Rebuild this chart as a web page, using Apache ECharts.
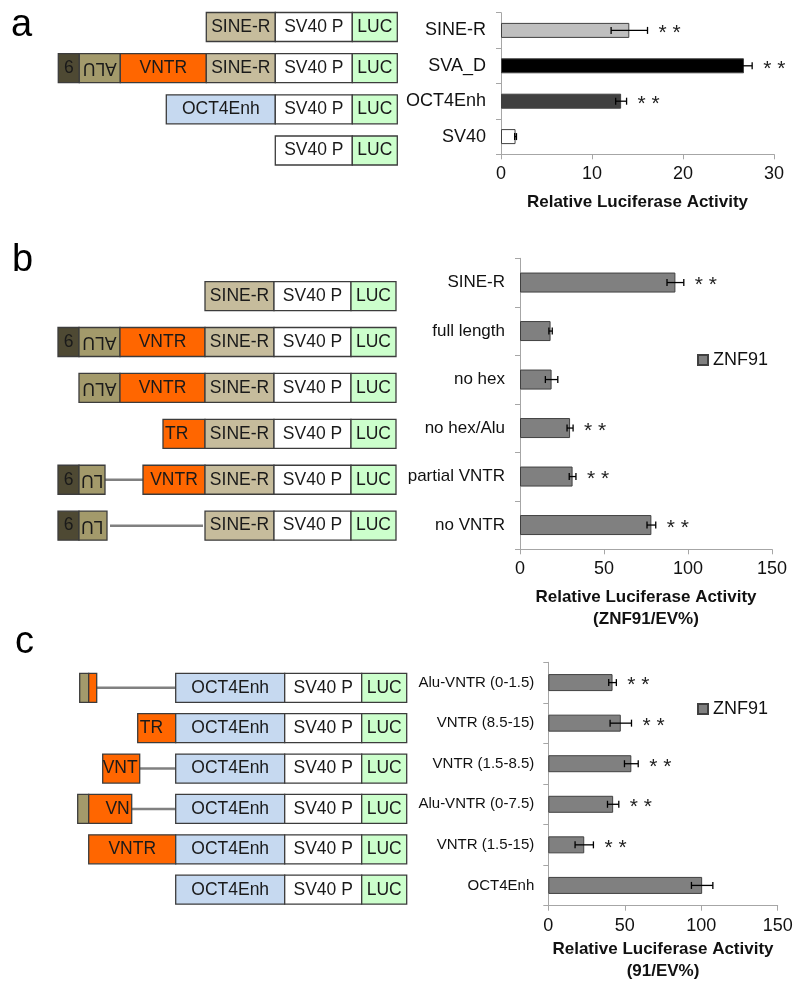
<!DOCTYPE html>
<html>
<head>
<meta charset="utf-8">
<script src="https://cdn.jsdelivr.net/npm/echarts@6/dist/echarts.min.js"></script>
<style>
  html, body { margin: 0; padding: 0; background: #fff; }
  #chart { width: 800px; height: 984px; }
</style>
</head>
<body>
<div id="chart"></div>
<script>
const FONT = "'Liberation Sans', Arial, sans-serif";

// ---------- panel a ----------
const aCats = ["SINE-R", "SVA_D", "OCT4Enh", "SV40"];
const aVals = [14.1, 26.7, 13.2, 1.6];
const aErr = [2.0, 0.9, 0.6, 0.1];
const aSig = ["* *", "* *", "* *", ""];
const aColors = ["#bfbfbf", "#000000", "#404040", "#ffffff"];

// ---------- panel b ----------
const bCats = ["SINE-R", "full length", "no hex", "no hex/Alu", "partial VNTR", "no VNTR"];
const bVals = [92.5, 18.2, 18.8, 29.8, 31.3, 78.2];
const bErr = [5.0, 1.0, 3.7, 1.8, 2.0, 2.6];
const bSig = ["* *", "", "", "* *", "* *", "* *"];

// ---------- panel c ----------
const cCats = ["Alu-VNTR (0-1.5)", "VNTR (8.5-15)", "VNTR (1.5-8.5)", "Alu-VNTR (0-7.5)", "VNTR (1.5-15)", "OCT4Enh"];
const cVals = [42.0, 47.4, 54.3, 42.4, 23.5, 100.6];
const cErr = [2.5, 7.0, 4.5, 3.7, 6.0, 7.0];
const cSig = ["* *", "* *", "* *", "* *", "* *", ""];

const seriesName = "ZNF91";

// construct maps: [row, start, end, part, label], start/end measured from the LUC end (0)
const aParts = [
  [0, -191, -122, "sine", "SINE-R"], [0, -122, -45, "sv40", "SV40 P"], [0, -45, 0, "luc", "LUC"],
  [1, -339, -318, "hex", "6"], [1, -318, -277, "alu", "ALU"], [1, -277, -191, "vntr", "VNTR"],
  [1, -191, -122, "sine", "SINE-R"], [1, -122, -45, "sv40", "SV40 P"], [1, -45, 0, "luc", "LUC"],
  [2, -231, -122, "oct4", "OCT4Enh"], [2, -122, -45, "sv40", "SV40 P"], [2, -45, 0, "luc", "LUC"],
  [3, -122, -45, "sv40", "SV40 P"], [3, -45, 0, "luc", "LUC"],
];

const bParts = [
  [0, -191, -122, "sine", "SINE-R"], [0, -122, -45, "sv40", "SV40 P"], [0, -45, 0, "luc", "LUC"],
  [1, -338, -317, "hex", "6"], [1, -317, -276, "alu", "ALU"], [1, -276, -191, "vntr", "VNTR"],
  [1, -191, -122, "sine", "SINE-R"], [1, -122, -45, "sv40", "SV40 P"], [1, -45, 0, "luc", "LUC"],
  [2, -317, -276, "alu", "ALU"], [2, -276, -191, "vntr", "VNTR"],
  [2, -191, -122, "sine", "SINE-R"], [2, -122, -45, "sv40", "SV40 P"], [2, -45, 0, "luc", "LUC"],
  [3, -233, -191, "vntr", "TR"],
  [3, -191, -122, "sine", "SINE-R"], [3, -122, -45, "sv40", "SV40 P"], [3, -45, 0, "luc", "LUC"],
  [4, -291, -253, "line", ""],
  [4, -338, -317, "hex", "6"], [4, -317, -291, "alu", "LU"], [4, -253, -191, "vntr", "VNTR"],
  [4, -191, -122, "sine", "SINE-R"], [4, -122, -45, "sv40", "SV40 P"], [4, -45, 0, "luc", "LUC"],
  [5, -286, -193, "line", ""],
  [5, -338, -317, "hex", "6"], [5, -317, -289, "alu", "LU"],
  [5, -191, -122, "sine", "SINE-R"], [5, -122, -45, "sv40", "SV40 P"], [5, -45, 0, "luc", "LUC"],
];

const cParts = [
  [0, -310, -231, "line", ""],
  [0, -327, -318, "alu", ""], [0, -318, -310, "vntr", ""],
  [0, -231, -122, "oct4", "OCT4Enh"], [0, -122, -45, "sv40", "SV40 P"], [0, -45, 0, "luc", "LUC"],
  [1, -269, -231, "vntr", "TR"],
  [1, -231, -122, "oct4", "OCT4Enh"], [1, -122, -45, "sv40", "SV40 P"], [1, -45, 0, "luc", "LUC"],
  [2, -267, -231, "line", ""],
  [2, -304, -267, "vntr", "VNT"],
  [2, -231, -122, "oct4", "OCT4Enh"], [2, -122, -45, "sv40", "SV40 P"], [2, -45, 0, "luc", "LUC"],
  [3, -275, -231, "line", ""],
  [3, -329, -318, "alu", ""], [3, -318, -275, "vntr", "VN"],
  [3, -231, -122, "oct4", "OCT4Enh"], [3, -122, -45, "sv40", "SV40 P"], [3, -45, 0, "luc", "LUC"],
  [4, -318, -231, "vntr", "VNTR"],
  [4, -231, -122, "oct4", "OCT4Enh"], [4, -122, -45, "sv40", "SV40 P"], [4, -45, 0, "luc", "LUC"],
  [5, -231, -122, "oct4", "OCT4Enh"], [5, -122, -45, "sv40", "SV40 P"], [5, -45, 0, "luc", "LUC"],
];

const PART_COLOR = {
  hex: "#4e4933",
  alu: "#a39a6b",
  vntr: "#ff6600",
  sine: "#c6bc9c",
  sv40: "#ffffff",
  luc: "#ccffcc",
  oct4: "#c6d9f0",
};
const FULL_NAME = { hex: "6", alu: "ALU", vntr: "VNTR", sine: "SINE-R", sv40: "SV40 P", luc: "LUC", oct4: "OCT4Enh" };
const BOX_H = 29;
const AXIS_COLOR = "#a6a6a6";

// draws one piece of a construct (box with label, or a gray deletion line)
function partRenderer(parts) {
  return function (params, api) {
    const [row, from, to, part, label] = parts[params.dataIndex];
    const p0 = api.coord([from, row]);
    const p1 = api.coord([to, row]);
    const cy = p0[1];
    if (part === "line") {
      return {
        type: "line",
        shape: { x1: p0[0], y1: cy, x2: p1[0], y2: cy },
        style: { stroke: "#808080", lineWidth: 2.5 },
      };
    }
    const children = [
      {
        type: "rect",
        shape: { x: p0[0], y: cy - BOX_H / 2, width: p1[0] - p0[0], height: BOX_H },
        style: { fill: PART_COLOR[part], stroke: "#3c3c3c", lineWidth: 1.3 },
      },
    ];
    if (label) {
      const full = FULL_NAME[part];
      const flip = part === "alu"; // ALU is drawn upside down
      let tx = (p0[0] + p1[0]) / 2;
      let align = "center";
      if (label !== full && full.endsWith(label)) {
        tx = p0[0] + 2;
        align = flip ? "right" : "left";
      } else if (label !== full && full.startsWith(label)) {
        tx = p1[0] - 2;
        align = flip ? "left" : "right";
      }
      children.push({
        type: "text",
        x: tx,
        y: cy,
        rotation: flip ? Math.PI : 0,
        style: { text: label, align: align, verticalAlign: "middle", fontSize: 17.5, fontFamily: FONT, fill: "#1a1a1a" },
      });
    }
    return { type: "group", children: children };
  };
}

function errRenderer(vals, errs) {
  return function (params, api) {
    const i = params.dataIndex;
    const lo = api.coord([vals[i] - errs[i], i]);
    const hi = api.coord([vals[i] + errs[i], i]);
    const y = lo[1];
    const cap = 3.5;
    const st = { stroke: "#000", lineWidth: 1.3 };
    return {
      type: "group",
      children: [
        { type: "line", shape: { x1: lo[0], y1: y, x2: hi[0], y2: y }, style: st },
        { type: "line", shape: { x1: lo[0], y1: y - cap, x2: lo[0], y2: y + cap }, style: st },
        { type: "line", shape: { x1: hi[0], y1: y - cap, x2: hi[0], y2: y + cap }, style: st },
      ],
    };
  };
}

function sigRenderer(vals, errs, sig) {
  return function (params, api) {
    const i = params.dataIndex;
    if (!sig[i]) return null;
    const p = api.coord([vals[i] + errs[i], i]);
    return {
      type: "text",
      x: p[0] + 11,
      y: p[1] + 3,
      style: { text: sig[i], align: "left", verticalAlign: "middle", fontSize: 21, fontFamily: FONT, fill: "#222" },
    };
  };
}

function barXAxis(gridIndex, max, interval, name, nameGap) {
  return {
    gridIndex: gridIndex,
    type: "value",
    min: 0,
    max: max,
    interval: interval,
    name: name,
    nameLocation: "middle",
    nameGap: nameGap,
    nameTextStyle: { fontSize: 17, fontWeight: "bold", fontFamily: FONT, color: "#111", lineHeight: 22 },
    axisLine: { show: true, lineStyle: { color: AXIS_COLOR, width: 1 } },
    axisTick: { show: true, length: 5, lineStyle: { color: AXIS_COLOR } },
    splitLine: { show: false },
    axisLabel: { fontSize: 18, fontFamily: FONT, color: "#111", margin: 11 },
  };
}

function barYAxis(gridIndex, cats, fontSize, margin) {
  return {
    gridIndex: gridIndex,
    type: "category",
    data: cats,
    inverse: true,
    axisLine: { show: true, lineStyle: { color: AXIS_COLOR, width: 1 } },
    axisTick: { show: true, length: 5, lineStyle: { color: AXIS_COLOR } },
    axisLabel: { fontSize: fontSize, fontFamily: FONT, color: "#111", margin: margin },
  };
}

function mapAxes(gridIndex, rows) {
  return {
    x: { gridIndex: gridIndex, type: "value", min: -340, max: 0, show: false },
    y: { gridIndex: gridIndex, type: "category", data: rows, inverse: true, show: false },
  };
}

const mapA = mapAxes(3, ["0", "1", "2", "3"]);
const mapB = mapAxes(4, ["0", "1", "2", "3", "4", "5"]);
const mapC = mapAxes(5, ["0", "1", "2", "3", "4", "5"]);

function errData(vals, errs) {
  return vals.map((v, i) => [v - errs[i], v + errs[i], i]);
}

const chart = echarts.init(document.getElementById("chart"), null, { renderer: "canvas" });

const option = {
  backgroundColor: "#ffffff",
  animation: false,
  grid: [
    { left: 501, top: 12.7, width: 273, height: 141.6, outerBoundsMode: "none" },
    { left: 520, top: 258.3, width: 252, height: 291, outerBoundsMode: "none" },
    { left: 548.3, top: 662.3, width: 229.4, height: 243.4, outerBoundsMode: "none" },
    { left: 57.3, top: 6.4, width: 340, height: 164.7, outerBoundsMode: "none" },
    { left: 56, top: 273.1, width: 340, height: 275.5, outerBoundsMode: "none" },
    { left: 66.7, top: 667.6, width: 340, height: 242.3, outerBoundsMode: "none" },
  ],
  xAxis: [
    barXAxis(0, 30, 10, "Relative Luciferase Activity", 37),
    barXAxis(1, 150, 50, "Relative Luciferase Activity\n(ZNF91/EV%)", 37),
    barXAxis(2, 150, 50, "Relative Luciferase Activity\n(91/EV%)", 33),
    mapA.x, mapB.x, mapC.x,
  ],
  yAxis: [
    barYAxis(0, aCats, 18, 15),
    barYAxis(1, bCats, 17, 15),
    barYAxis(2, cCats, 15, 14),
    mapA.y, mapB.y, mapC.y,
  ],
  legend: [
    {
      data: [seriesName], left: 697, top: 351, padding: 0, icon: "rect", itemWidth: 10, itemHeight: 10,
      selectedMode: false, textStyle: { fontSize: 18, fontFamily: FONT, color: "#111" },
    },
    {
      data: [seriesName], left: 697, top: 700, padding: 0, icon: "rect", itemWidth: 10, itemHeight: 10,
      selectedMode: false, textStyle: { fontSize: 18, fontFamily: FONT, color: "#111" },
    },
  ],
  graphic: [
    { type: "text", left: 11, top: 7, style: { text: "a", fontSize: 38, fontFamily: FONT, fill: "#000" } },
    { type: "text", left: 12, top: 242, style: { text: "b", fontSize: 38, fontFamily: FONT, fill: "#000" } },
    { type: "text", left: 15, top: 624, style: { text: "c", fontSize: 38, fontFamily: FONT, fill: "#000" } },
  ],
  series: [
    // panel a
    {
      name: "a",
      type: "bar",
      xAxisIndex: 0,
      yAxisIndex: 0,
      barWidth: 15,
      data: aVals.map((v, i) => ({ value: v, itemStyle: { color: aColors[i] } })),
      itemStyle: { borderColor: "#404040", borderWidth: 1 },
    },
    { type: "custom", xAxisIndex: 0, yAxisIndex: 0, clip: false, renderItem: errRenderer(aVals, aErr), data: errData(aVals, aErr), encode: { x: [0, 1], y: 2 }, z: 5 },
    { type: "custom", xAxisIndex: 0, yAxisIndex: 0, clip: false, renderItem: sigRenderer(aVals, aErr, aSig), data: errData(aVals, aErr), encode: { x: [0, 1], y: 2 }, z: 5 },
    // panel b
    {
      name: seriesName,
      type: "bar",
      xAxisIndex: 1,
      yAxisIndex: 1,
      barWidth: 20,
      data: bVals,
      itemStyle: { color: "#808080", borderColor: "#404040", borderWidth: 1 },
    },
    { type: "custom", xAxisIndex: 1, yAxisIndex: 1, clip: false, renderItem: errRenderer(bVals, bErr), data: errData(bVals, bErr), encode: { x: [0, 1], y: 2 }, z: 5 },
    { type: "custom", xAxisIndex: 1, yAxisIndex: 1, clip: false, renderItem: sigRenderer(bVals, bErr, bSig), data: errData(bVals, bErr), encode: { x: [0, 1], y: 2 }, z: 5 },
    // panel c
    {
      name: seriesName,
      type: "bar",
      xAxisIndex: 2,
      yAxisIndex: 2,
      barWidth: 17,
      data: cVals,
      itemStyle: { color: "#808080", borderColor: "#404040", borderWidth: 1 },
    },
    { type: "custom", xAxisIndex: 2, yAxisIndex: 2, clip: false, renderItem: errRenderer(cVals, cErr), data: errData(cVals, cErr), encode: { x: [0, 1], y: 2 }, z: 5 },
    { type: "custom", xAxisIndex: 2, yAxisIndex: 2, clip: false, renderItem: sigRenderer(cVals, cErr, cSig), data: errData(cVals, cErr), encode: { x: [0, 1], y: 2 }, z: 5 },
    // construct diagrams
    { type: "custom", xAxisIndex: 3, yAxisIndex: 3, clip: false, renderItem: partRenderer(aParts), data: aParts.map((p) => [p[1], p[2], p[0]]), encode: { x: [0, 1], y: 2 } },
    { type: "custom", xAxisIndex: 4, yAxisIndex: 4, clip: false, renderItem: partRenderer(bParts), data: bParts.map((p) => [p[1], p[2], p[0]]), encode: { x: [0, 1], y: 2 } },
    { type: "custom", xAxisIndex: 5, yAxisIndex: 5, clip: false, renderItem: partRenderer(cParts), data: cParts.map((p) => [p[1], p[2], p[0]]), encode: { x: [0, 1], y: 2 } },
  ],
};

chart.setOption(option);
</script>
</body>
</html>
